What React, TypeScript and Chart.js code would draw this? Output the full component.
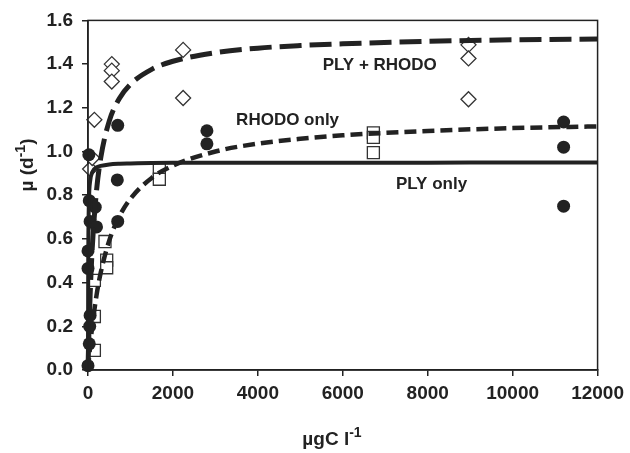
import React, { useEffect, useRef } from "react";
import { Chart, registerables } from "chart.js";

Chart.register(...registerables);

// Scatter observations (µgC l-1, µ d-1)
const plyX = [20, 30, 170, 50, 200, 0, 0, 50, 40, 30, 0, 700, 690, 700, 2800, 2800, 11200, 11200, 11200];
const plyY = [0.985, 0.775, 0.745, 0.68, 0.655, 0.545, 0.465, 0.25, 0.2, 0.12, 0.02, 1.12, 0.87, 0.68, 1.095, 1.035, 1.135, 1.02, 0.75];

const rhodoX = [150, 150, 150, 400, 440, 440, 1680, 1680, 6720, 6720, 6720];
const rhodoY = [0.41, 0.245, 0.09, 0.588, 0.503, 0.468, 0.922, 0.873, 1.085, 1.065, 0.995];

const bothX = [50, 100, 150, 560, 560, 560, 2240, 2240, 8960, 8960, 8960];
const bothY = [0.92, 0.97, 1.145, 1.4, 1.37, 1.32, 1.465, 1.245, 1.488, 1.426, 1.239];

// Fitted curves
const fitX = [0, 5, 10, 25, 50, 100, 200, 300, 500, 750, 1000, 1500, 2000, 3000, 4000, 5000, 6000, 8000, 10000, 12000];
const fitPly = [0, 0.475, 0.633, 0.792, 0.864, 0.905, 0.927, 0.934, 0.941, 0.944, 0.945, 0.947, 0.948, 0.948, 0.949, 0.949, 0.949, 0.949, 0.95, 0.95];
const fitRhodo = [0, 0.012, 0.024, 0.057, 0.109, 0.2, 0.341, 0.446, 0.592, 0.707, 0.784, 0.879, 0.935, 1.0, 1.036, 1.058, 1.074, 1.094, 1.107, 1.115];
const fitBoth = [0, 0.043, 0.083, 0.192, 0.342, 0.559, 0.82, 0.971, 1.139, 1.246, 1.308, 1.376, 1.413, 1.452, 1.473, 1.485, 1.493, 1.504, 1.511, 1.515];

const curveLabels = ["PLY + RHODO", "RHODO only", "PLY only"];
const curveLabelX = [6870, 4700, 8090];
const curveLabelY = [1.395, 1.145, 0.851];

const FONT = '"Liberation Sans", Arial, sans-serif';
const INK = "#222";

function pts(xs: number[], ys: number[]) {
  return xs.map((x, i) => ({ x, y: ys[i] }));
}

function drawRich(ctx: CanvasRenderingContext2D, parts: [string, boolean][], cx: number, cy: number, size: number) {
  const base = `bold ${size}px ${FONT}`;
  const sup = `bold ${Math.round(size * 0.72)}px ${FONT}`;
  let total = 0;
  const widths = parts.map(([t, s]) => {
    ctx.font = s ? sup : base;
    const w = ctx.measureText(t).width;
    total += w;
    return w;
  });
  let x = cx - total / 2;
  ctx.textAlign = "left";
  ctx.textBaseline = "middle";
  parts.forEach(([t, s], i) => {
    ctx.font = s ? sup : base;
    ctx.fillText(t, x, s ? cy - size * 0.38 : cy);
    x += widths[i];
  });
}

const decorPlugin = {
  id: "decor",
  afterDatasetsDraw(chart: any) {
    const { ctx, chartArea, scales } = chart;
    ctx.save();
    ctx.strokeStyle = INK;
    ctx.lineWidth = 1.5;
    ctx.strokeRect(chartArea.left, chartArea.top, chartArea.right - chartArea.left, chartArea.bottom - chartArea.top);
    ctx.fillStyle = INK;
    ctx.font = `bold 17px ${FONT}`;
    ctx.textAlign = "center";
    ctx.textBaseline = "middle";
    curveLabels.forEach((t, i) => {
      ctx.fillText(t, scales.x.getPixelForValue(curveLabelX[i]), scales.y.getPixelForValue(curveLabelY[i]));
    });
    // x title
    drawRich(ctx, [["\u00B5gC l", false], ["-1", true]], 332, 440, 19);
    // y title
    ctx.translate(28, 165);
    ctx.rotate(-Math.PI / 2);
    drawRich(ctx, [["\u00B5 (d", false], ["-1", true], [")", false]], 0, 0, 19);
    ctx.restore();
  },
};

export default function App() {
  const ref = useRef<HTMLCanvasElement | null>(null);
  useEffect(() => {
    if (!ref.current) return;
    const lineBase = {
      type: "line" as const,
      pointRadius: 0,
      borderColor: INK,
      backgroundColor: INK,
      fill: false,
      cubicInterpolationMode: "monotone" as const,
      order: 0,
      clip: 3,
    };
    const chart = new Chart(ref.current, {
      type: "scatter",
      data: {
        datasets: [
          { ...lineBase, label: "fit PLY", data: pts(fitX, fitPly), borderWidth: 4 },
          { ...lineBase, label: "fit RHODO", data: pts(fitX, fitRhodo), borderWidth: 4.5, borderDash: [12, 6] },
          { ...lineBase, label: "fit PLY+RHODO", data: pts(fitX, fitBoth), borderWidth: 5, borderDash: [22, 8] },
          {
            label: "PLY only",
            data: pts(plyX, plyY),
            pointStyle: "circle",
            pointRadius: 6.5,
            backgroundColor: INK,
            borderColor: INK,
            borderWidth: 0,
            order: 1,
            clip: false,
          } as any,
          {
            label: "RHODO only",
            data: pts(rhodoX, rhodoY),
            pointStyle: "rect",
            pointRadius: 8.5,
            backgroundColor: "#fff",
            borderColor: "#333",
            borderWidth: 1.3,
            order: 1,
            clip: false,
          } as any,
          {
            label: "PLY + RHODO",
            data: pts(bothX, bothY),
            pointStyle: "rectRot",
            pointRadius: 7.5,
            backgroundColor: "#fff",
            borderColor: "#333",
            borderWidth: 1.3,
            order: 1,
            clip: false,
          } as any,
        ],
      },
      options: {
        animation: false,
        responsive: true,
        maintainAspectRatio: false,
        layout: { padding: { top: 11, right: 32, left: 0, bottom: 0 } },
        plugins: { legend: { display: false }, tooltip: { enabled: false } },
        scales: {
          x: {
            type: "linear",
            min: 0,
            max: 12000,
            afterFit: (s: any) => {
              s.height = 83;
            },
            ticks: {
              stepSize: 2000,
              color: INK,
              padding: 6,
              maxRotation: 0,
              font: { family: FONT, size: 19, weight: "bold" },
              callback: (v: any) => String(v),
            },
            grid: { display: true, drawOnChartArea: false, drawTicks: true, tickLength: 6, color: INK, lineWidth: 1.5 },
            border: { display: true, color: INK, width: 1.5 },
          },
          y: {
            type: "linear",
            min: 0,
            max: 1.6,
            afterFit: (s: any) => {
              s.width = 88;
            },
            ticks: {
              stepSize: 0.2,
              color: INK,
              padding: 9,
              font: { family: FONT, size: 19, weight: "bold" },
              callback: (v: any) => Number(v).toFixed(1),
            },
            grid: { display: true, drawOnChartArea: false, drawTicks: true, tickLength: 6, color: INK, lineWidth: 1.5 },
            border: { display: true, color: INK, width: 1.5 },
          },
        },
      },
      plugins: [decorPlugin],
    } as any);
    return () => chart.destroy();
  }, []);
  return (
    <div style={{ position: "absolute", left: 0, top: 0, width: 630, height: 453, background: "#fff" }}>
      <canvas ref={ref} />
    </div>
  );
}
